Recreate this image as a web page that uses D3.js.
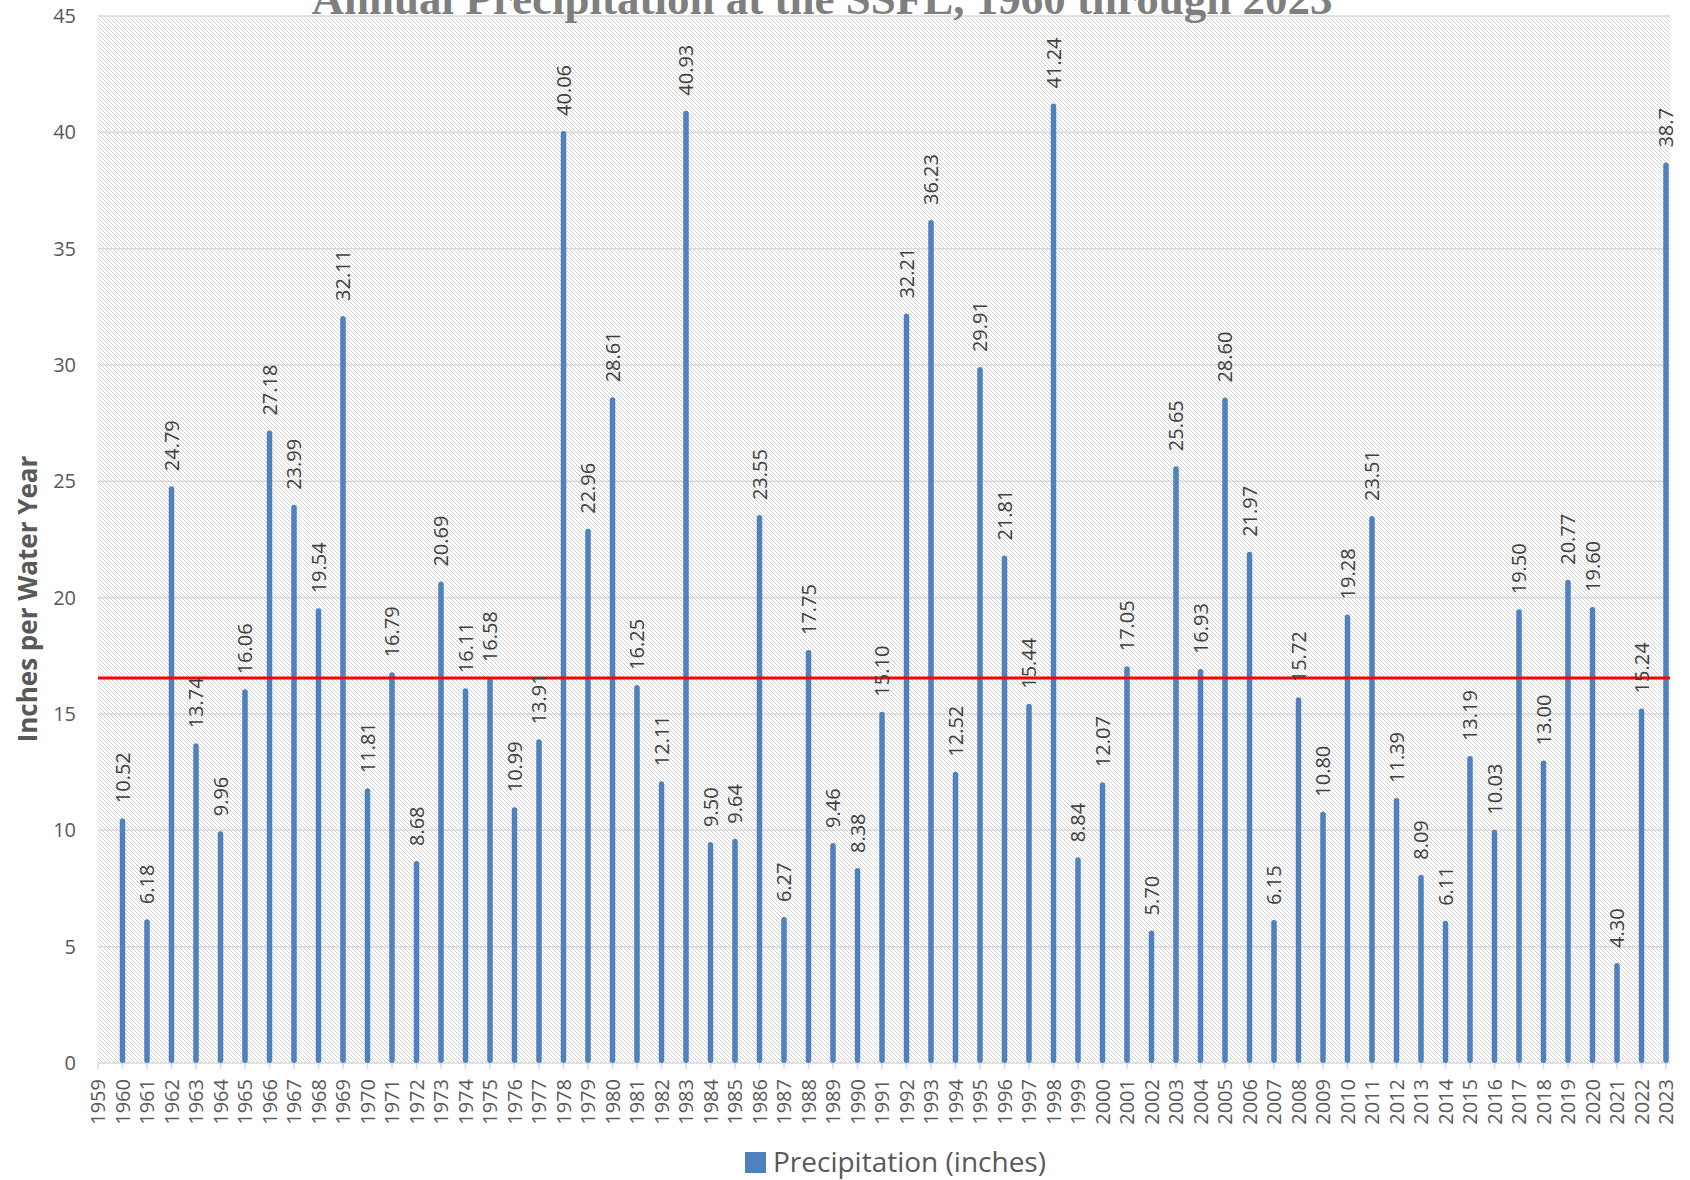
<!DOCTYPE html>
<html>
<head>
<meta charset="utf-8">
<script src="https://cdn.jsdelivr.net/npm/d3@7"></script>
<style>
  body { margin: 0; background: #fff; }
  text { font-family: "Open Sans", "Noto Sans", sans-serif; }
</style>
</head>
<body>
<div id="chart"></div>
<script>
// datos del gráfico
var years = [1960, 1961, 1962, 1963, 1964, 1965, 1966, 1967, 1968, 1969,
  1970, 1971, 1972, 1973, 1974, 1975, 1976, 1977, 1978, 1979,
  1980, 1981, 1982, 1983, 1984, 1985, 1986, 1987, 1988, 1989,
  1990, 1991, 1992, 1993, 1994, 1995, 1996, 1997, 1998, 1999,
  2000, 2001, 2002, 2003, 2004, 2005, 2006, 2007, 2008, 2009,
  2010, 2011, 2012, 2013, 2014, 2015, 2016, 2017, 2018, 2019,
  2020, 2021, 2022, 2023];
var precip = [10.52, 6.18, 24.79, 13.74, 9.96, 16.06, 27.18, 23.99, 19.54, 32.11,
  11.81, 16.79, 8.68, 20.69, 16.11, 16.58, 10.99, 13.91, 40.06, 22.96,
  28.61, 16.25, 12.11, 40.93, 9.50, 9.64, 23.55, 6.27, 17.75, 9.46,
  8.38, 15.10, 32.21, 36.23, 12.52, 29.91, 21.81, 15.44, 41.24, 8.84,
  12.07, 17.05, 5.70, 25.65, 16.93, 28.60, 21.97, 6.15, 15.72, 10.80,
  19.28, 23.51, 11.39, 8.09, 6.11, 13.19, 10.03, 19.50, 13.00, 20.77,
  19.60, 4.30, 15.24, 38.7];
// etiquetas tal y como aparecen (la última sin dos decimales)
var valueLabels = precip.map(function (v, i) {
  return i === precip.length - 1 ? String(v) : v.toFixed(2);
});
var axisYears = d3.range(1959, 2024); // el eje empieza en 1959
var yTicks = [0, 5, 10, 15, 20, 25, 30, 35, 40, 45];
var averageLine = 16.55; // línea roja
var title = "Annual Precipitation at the SSFL, 1960 through 2023";
var yTitle = "Inches per Water Year";
var legendLabel = "Precipitation (inches)";

var W = 1690, H = 1180;
var plotLeft = 98, plotRight = 1670, plotTop = 16, plotBottom = 1063;
var blue = "#4f81bd";

var svg = d3.select("#chart").append("svg")
  .attr("width", W)
  .attr("height", H);

var x = d3.scaleLinear().domain([1959, 2023]).range([plotLeft, 1666]);
var y = d3.scaleLinear().domain([0, 45]).range([plotBottom, plotTop]);

var defs = svg.append("defs");
//trama diagonal del fondo
var pat = defs.append("pattern")
  .attr("id", "hatch")
  .attr("patternUnits", "userSpaceOnUse")
  .attr("width", 4)
  .attr("height", 4);
pat.append("rect").attr("width", 4).attr("height", 4).attr("fill", "#fff");
pat.append("path")
  .attr("d", "M-1,-1L5,5M3,-1L5,1M-1,3L1,5")
  .attr("stroke", "#d2d2d2")
  .attr("stroke-width", 1);

defs.append("clipPath").attr("id", "plotclip")
  .append("rect")
  .attr("x", plotLeft).attr("y", 0)
  .attr("width", plotRight - plotLeft).attr("height", plotBottom + 1);

svg.append("rect")
  .attr("x", plotLeft).attr("y", plotTop)
  .attr("width", plotRight - plotLeft).attr("height", plotBottom - plotTop)
  .attr("fill", "url(#hatch)");

// líneas de cuadrícula
svg.append("g")
  .selectAll("line")
  .data(yTicks.slice(1))
  .enter()
  .append("line")
  .attr("x1", plotLeft).attr("x2", plotRight)
  .attr("y1", function (d) { return y(d); })
  .attr("y2", function (d) { return y(d); })
  .attr("stroke", "#d9d9d9")
  .attr("stroke-width", 1.5);

// eje y
svg.append("g")
  .selectAll("text")
  .data(yTicks)
  .enter()
  .append("text")
  .attr("x", 76)
  .attr("y", function (d) { return y(d); })
  .attr("dy", "0.35em")
  .attr("text-anchor", "end")
  .attr("font-size", 20)
  .attr("fill", "#595959")
  .text(function (d) { return d; });

svg.append("text")
  .attr("transform", "translate(" + 37 + "," + 599 + ") rotate(-90)")
  .attr("text-anchor", "middle")
  .attr("font-size", 26)
  .attr("font-weight", "bold")
  .attr("fill", "#595959")
  .text(yTitle);

// eje x
svg.append("line")
  .attr("x1", plotLeft).attr("x2", plotRight)
  .attr("y1", plotBottom).attr("y2", plotBottom)
  .attr("stroke", "#d9d9d9")
  .attr("stroke-width", 1.5);

svg.append("g")
  .selectAll("line")
  .data(axisYears)
  .enter()
  .append("line")
  .attr("x1", function (d) { return x(d); })
  .attr("x2", function (d) { return x(d); })
  .attr("y1", plotBottom)
  .attr("y2", plotBottom + 6)
  .attr("stroke", "#d9d9d9")
  .attr("stroke-width", 1.5);

svg.append("g")
  .selectAll("text")
  .data(axisYears)
  .enter()
  .append("text")
  .attr("transform", function (d) {
    return "translate(" + x(d) + "," + (plotBottom + 16) + ") rotate(-90)";
  })
  .attr("dy", "0.35em")
  .attr("text-anchor", "end")
  .attr("font-size", 20)
  .attr("fill", "#595959")
  .text(function (d) { return d; });

// barras
var plot = svg.append("g").attr("clip-path", "url(#plotclip)");

plot.selectAll("rect")
  .data(precip)
  .enter()
  .append("rect")
  .attr("x", function (d, i) { return x(years[i]) - 2.75; })
  .attr("y", function (d) { return y(d); })
  .attr("width", 5.5)
  .attr("height", function (d) { return plotBottom - y(d); })
  .attr("rx", 2.75)
  .attr("fill", blue);

// línea roja
svg.append("line")
  .attr("x1", plotLeft).attr("x2", plotRight)
  .attr("y1", y(averageLine)).attr("y2", y(averageLine))
  .attr("stroke", "#ff0000")
  .attr("stroke-width", 3);

// etiquetas de valor
svg.append("g")
  .selectAll("text")
  .data(precip)
  .enter()
  .append("text")
  .attr("transform", function (d, i) {
    return "translate(" + x(years[i]) + "," + (y(d) - 15) + ") rotate(-90)";
  })
  .attr("dy", "0.35em")
  .attr("font-size", 20)
  .attr("fill", "#404040")
  .text(function (d, i) { return valueLabels[i]; });

// título (queda cortado arriba como en el original)
svg.append("text")
  .attr("x", 822)
  .attr("y", 14)
  .attr("text-anchor", "middle")
  .style("font-family", "'Liberation Serif', 'DejaVu Serif', serif")
  .attr("font-weight", "bold")
  .attr("font-size", 45)
  .attr("fill", "#7f7f7f")
  .text(title);

// leyenda
svg.append("rect")
  .attr("x", 745).attr("y", 1152)
  .attr("width", 21).attr("height", 21)
  .attr("fill", blue);

svg.append("text")
  .attr("x", 773)
  .attr("y", 1172)
  .attr("font-size", 28)
  .attr("fill", "#595959")
  .text(legendLabel);
</script>
</body>
</html>
